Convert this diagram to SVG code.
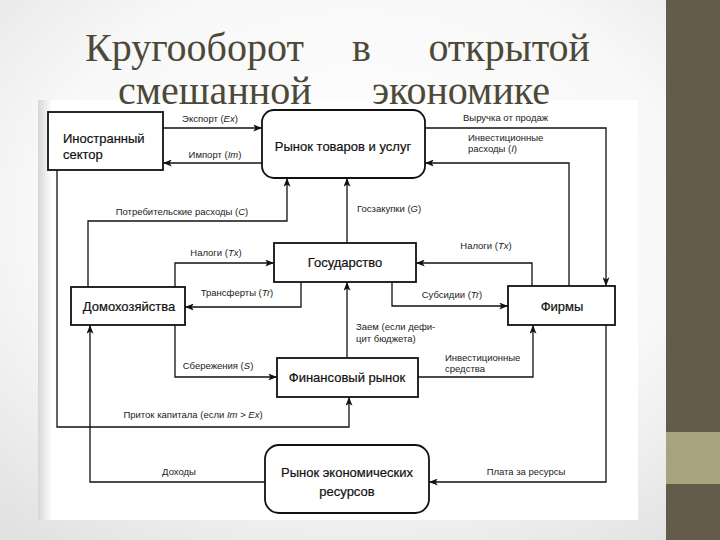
<svg xmlns="http://www.w3.org/2000/svg" width="720" height="540" viewBox="0 0 720 540">
<defs>
<radialGradient id="bg" cx="0.5" cy="0.4" r="0.75">
<stop offset="0" stop-color="#ffffff"/>
<stop offset="0.6" stop-color="#f8f8f8"/>
<stop offset="1" stop-color="#e2e2e2"/>
</radialGradient>
<linearGradient id="scanedge" x1="0" y1="0" x2="1" y2="0">
<stop offset="0" stop-color="#d6d6d6"/>
<stop offset="1" stop-color="#ffffff"/>
</linearGradient>
<marker id="arr" viewBox="0 0 10 8" refX="10" refY="4" markerWidth="9" markerHeight="7" markerUnits="userSpaceOnUse" orient="auto">
<path d="M0,0 L10,4 L0,8 L2.5,4 z" fill="#111"/>
</marker>
<style>
.title{font-family:"Liberation Serif","Times New Roman",serif;font-size:40px;fill:#4c4939}
.box{fill:#fff;stroke:#111;stroke-width:1.8}
.nt{font-family:"Liberation Sans",Arial,sans-serif;font-size:13px;fill:#111;stroke:#111;stroke-width:0.2}
.lb{font-family:"Liberation Sans",Arial,sans-serif;font-size:9.5px;fill:#222}
.c{text-anchor:middle}
.i{font-style:italic}
.ln{fill:none;stroke:#111;stroke-width:1.3;marker-end:url(#arr)}
</style>
</defs>
<rect x="0" y="0" width="720" height="540" fill="url(#bg)"/>
<rect x="666" y="0" width="54" height="540" fill="#635c4a"/>
<rect x="666" y="432" width="54" height="52" fill="#a8a27f"/>
<rect x="38" y="100" width="600" height="420" fill="#ffffff"/>
<rect x="38" y="100" width="14" height="420" fill="url(#scanedge)"/>

<g id="title">
<text class="title" x="85" y="61">Кругооборот</text>
<text class="title" x="352" y="61">в</text>
<text class="title" x="590" y="61" text-anchor="end">открытой</text>
<text class="title" x="118" y="104">смешанной</text>
<text class="title" x="550" y="104" text-anchor="end">экономике</text>
</g>

<g id="connectors">
<path class="ln" d="M163,128 H262"/>
<path class="ln" d="M262,163 H163"/>
<path class="ln" d="M88,287 V221 H287 V178"/>
<path class="ln" d="M347,243 V178"/>
<path class="ln" d="M175,287 V263 H274"/>
<path class="ln" d="M301,282 V307 H185"/>
<path class="ln" d="M175,325 V377 H277"/>
<path class="ln" d="M532,286 V263 H416"/>
<path class="ln" d="M392,282 V306 H508"/>
<path class="ln" d="M347,358 V282"/>
<path class="ln" d="M418,377 H533 V325"/>
<path class="ln" d="M425,128 H606 V286"/>
<path class="ln" d="M569,286 V163 H425"/>
<path class="ln" d="M606,325 V482 H429"/>
<path class="ln" d="M265,482 H90 V325"/>
<path class="ln" d="M57,170 V427 H349 V397"/>

<text class="lb c" x="210" y="122">Экспорт (<tspan class="i">Ex</tspan>)</text>
<text class="lb c" x="215" y="158">Импорт (<tspan class="i">Im</tspan>)</text>
<text class="lb c" x="182" y="215">Потребительские расходы (<tspan class="i">C</tspan>)</text>
<text class="lb" x="357" y="212">Госзакупки (<tspan class="i">G</tspan>)</text>
<text class="lb c" x="216" y="256">Налоги (<tspan class="i">Tx</tspan>)</text>
<text class="lb c" x="237" y="296">Трансферты (<tspan class="i">Tr</tspan>)</text>
<text class="lb c" x="218" y="369">Сбережения (<tspan class="i">S</tspan>)</text>
<text class="lb c" x="486" y="249">Налоги (<tspan class="i">Tx</tspan>)</text>
<text class="lb c" x="452" y="298">Субсидии (<tspan class="i">Tr</tspan>)</text>
<text class="lb" x="356" y="330">Заем (если дефи-</text>
<text class="lb" x="356" y="342">цит бюджета)</text>
<text class="lb" x="445" y="361">Инвестиционные</text>
<text class="lb" x="445" y="372">средства</text>
<text class="lb" x="463" y="121">Выручка от продаж</text>
<text class="lb" x="468" y="141">Инвестиционные</text>
<text class="lb" x="468" y="152">расходы (<tspan class="i">I</tspan>)</text>
<text class="lb c" x="526" y="475">Плата за ресурсы</text>
<text class="lb c" x="179" y="475">Доходы</text>
<text class="lb c" x="193" y="418">Приток капитала (если <tspan class="i">Im</tspan> &gt; <tspan class="i">Ex</tspan>)</text>
</g>

<g id="foreign">
<rect class="box" x="48" y="112" width="115" height="58"/>
<text class="nt" x="63" y="143">Иностранный</text>
<text class="nt" x="63" y="159">сектор</text>
</g>
<g id="goods-market">
<rect class="box" x="262" y="110" width="163" height="68" rx="12"/>
<text class="nt c" x="343" y="151">Рынок товаров и услуг</text>
</g>
<g id="government">
<rect class="box" x="274" y="243" width="142" height="39"/>
<text class="nt c" x="345" y="267">Государство</text>
</g>
<g id="households">
<rect class="box" x="71" y="287" width="114" height="38"/>
<text class="nt c" x="129" y="311">Домохозяйства</text>
</g>
<g id="firms">
<rect class="box" x="508" y="286" width="107" height="39"/>
<text class="nt c" x="562" y="311">Фирмы</text>
</g>
<g id="financial-market">
<rect class="box" x="277" y="358" width="141" height="39"/>
<text class="nt c" x="347" y="382">Финансовый рынок</text>
</g>
<g id="resource-market">
<rect class="box" x="265" y="445" width="164" height="68" rx="14"/>
<text class="nt c" x="347" y="477">Рынок экономических</text>
<text class="nt c" x="347" y="496">ресурсов</text>
</g>
</svg>
